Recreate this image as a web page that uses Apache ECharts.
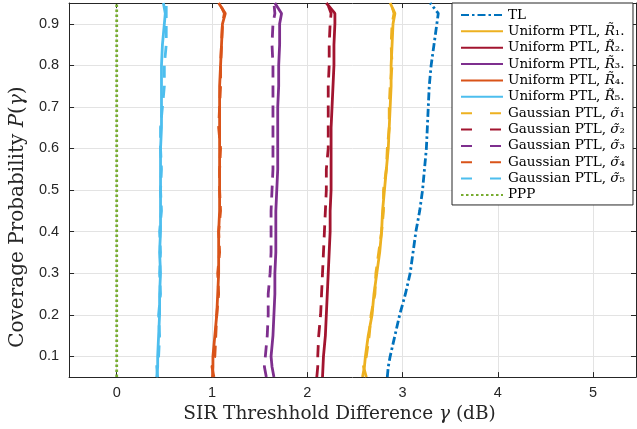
<!DOCTYPE html>
<html><head><meta charset="utf-8">
<script src="https://cdn.jsdelivr.net/npm/echarts@6/dist/echarts.min.js"></script>
<style>html,body{margin:0;padding:0;background:#fff}#c{width:637px;height:429px}</style>
</head><body><div id="c"></div>
<script>
// Coverage probability levels (y) shared by all curves
const yLevels = [0.05, 0.075, 0.1, 0.15, 0.2, 0.25, 0.3, 0.35, 0.4, 0.45, 0.5, 0.55, 0.6, 0.65, 0.7, 0.75, 0.8, 0.85, 0.9, 0.925, 0.95];

// SIR threshold difference (x, dB) of each curve at those levels
const tlX      = [2.84, 2.85, 2.87, 2.92, 2.97, 3.03, 3.08, 3.11, 3.14, 3.18, 3.21, 3.23, 3.25, 3.26, 3.27, 3.28, 3.30, 3.33, 3.36, 3.375, 3.29];
const uniR1X   = [2.58, 2.60, 2.61, 2.64, 2.68, 2.70, 2.73, 2.76, 2.78, 2.79, 2.81, 2.83, 2.85, 2.86, 2.87, 2.88, 2.88, 2.89, 2.90, 2.92, 2.87];
const uniR2X   = [2.16, 2.165, 2.17, 2.19, 2.20, 2.21, 2.22, 2.23, 2.24, 2.24, 2.25, 2.25, 2.25, 2.25, 2.26, 2.27, 2.28, 2.28, 2.29, 2.29, 2.20];
const uniR3X   = [1.65, 1.63, 1.62, 1.64, 1.65, 1.66, 1.66, 1.67, 1.67, 1.67, 1.68, 1.69, 1.69, 1.69, 1.69, 1.70, 1.70, 1.71, 1.71, 1.73, 1.66];
const uniR4X   = [1.005, 1.01, 1.01, 1.03, 1.05, 1.06, 1.07, 1.07, 1.07, 1.08, 1.08, 1.08, 1.08, 1.08, 1.08, 1.08, 1.09, 1.10, 1.11, 1.14, 1.07];
const uniR5X   = [0.42, 0.43, 0.43, 0.44, 0.45, 0.45, 0.46, 0.45, 0.46, 0.46, 0.46, 0.46, 0.46, 0.47, 0.47, 0.47, 0.47, 0.48, 0.50, 0.51, 0.49];
const gauS1X   = [2.62, 2.59, 2.62, 2.65, 2.67, 2.71, 2.72, 2.75, 2.78, 2.80, 2.80, 2.83, 2.84, 2.86, 2.86, 2.87, 2.89, 2.88, 2.89, 2.91, 2.88];
const gauS2X   = [2.10, 2.11, 2.11, 2.12, 2.14, 2.15, 2.16, 2.17, 2.18, 2.19, 2.20, 2.20, 2.22, 2.22, 2.22, 2.22, 2.23, 2.23, 2.24, 2.25, 2.21];
const gauS3X   = [1.57, 1.55, 1.56, 1.58, 1.59, 1.59, 1.61, 1.62, 1.62, 1.62, 1.63, 1.64, 1.64, 1.64, 1.64, 1.64, 1.64, 1.63, 1.64, 1.66, 1.65];
const gauS4X   = [1.02, 1.00, 1.03, 1.04, 1.05, 1.07, 1.06, 1.08, 1.07, 1.09, 1.08, 1.08, 1.09, 1.07, 1.08, 1.09, 1.09, 1.10, 1.11, 1.13, 1.08];
const gauS5X   = [0.43, 0.42, 0.44, 0.45, 0.44, 0.46, 0.45, 0.46, 0.45, 0.47, 0.46, 0.47, 0.46, 0.46, 0.48, 0.50, 0.50, 0.52, 0.52, 0.52, 0.52];
const pppX     = [0, 0];
const pppY     = [0.05, 0.95];

const xTicks = [0, 1, 2, 3, 4, 5];
const yTicks = [0.1, 0.2, 0.3, 0.4, 0.5, 0.6, 0.7, 0.8, 0.9];

const seriesNames = ['TL', 'Uniform PTL, R1', 'Uniform PTL, R2', 'Uniform PTL, R3', 'Uniform PTL, R4', 'Uniform PTL, R5',
  'Gaussian PTL, s1', 'Gaussian PTL, s2', 'Gaussian PTL, s3', 'Gaussian PTL, s4', 'Gaussian PTL, s5', 'PPP'];
const legendLabels = ['{t|TL}',
  '{t|Uniform PTL, }{i|R\u0303}{t|\u2081.}', '{t|Uniform PTL, }{i|R\u0303}{t|\u2082.}', '{t|Uniform PTL, }{i|R\u0303}{t|\u2083.}',
  '{t|Uniform PTL, }{i|R\u0303}{t|\u2084.}', '{t|Uniform PTL, }{i|R\u0303}{t|\u2085.}',
  '{t|Gaussian PTL, }{i|\u03c3\u0303}{t|\u2081}', '{t|Gaussian PTL, }{i|\u03c3\u0303}{t|\u2082}', '{t|Gaussian PTL, }{i|\u03c3\u0303}{t|\u2083}',
  '{t|Gaussian PTL, }{i|\u03c3\u0303}{t|\u2084}', '{t|Gaussian PTL, }{i|\u03c3\u0303}{t|\u2085}', '{t|PPP}'];
const seriesColors = ['#0072BD', '#EDB120', '#A2142F', '#7E2F8E', '#D95319', '#4DBEEE',
  '#EDB120', '#A2142F', '#7E2F8E', '#D95319', '#4DBEEE', '#77AC30'];
const seriesX = [tlX, uniR1X, uniR2X, uniR3X, uniR4X, uniR5X, gauS1X, gauS2X, gauS3X, gauS4X, gauS5X];

const dashTL = [8, 3, 2.5, 3];
const dashGau = [12, 8];
const dotPPP = [2.5, 2.5];

function styleFor(i) {
  if (i === 0) return dashTL;
  if (i >= 6 && i <= 10) return dashGau;
  if (i === 11) return dotPPP;
  return 'solid';
}

const series = seriesNames.map((name, i) => {
  const data = i === 11 ? pppX.map((x, k) => [x, pppY[k]]) : seriesX[i].map((x, k) => [x, yLevels[k]]);
  return {
    name, type: 'line', data, symbol: 'none', showSymbol: false, animation: false,
    xAxisIndex: 0, yAxisIndex: 0,
    lineStyle: { color: seriesColors[i], width: 2.8, type: styleFor(i), cap: 'butt' },
    itemStyle: { color: seriesColors[i] },
    emphasis: { disabled: true },
    z: 2 + i * 0.01
  };
});

const legendData = seriesNames.map((name, i) => {
  const d = { name, itemStyle: { color: 'rgba(0,0,0,0)', borderWidth: 0, opacity: 0 } };
  if (i >= 6 && i <= 10) d.lineStyle = { type: [11, 18] };
  return d;
});

const axisColor = '#262626';
const gridColor = '#e3e3e3';
const serif = 'DejaVu Serif';
const sans = 'Liberation Sans';

const chart = echarts.init(document.getElementById('c'), null, { renderer: 'canvas' });
chart.setOption({
  animation: false,
  backgroundColor: '#fff',
  grid: { left: 68, right: 1, top: 3, bottom: 51, containLabel: false },
  xAxis: [{
    type: 'value', min: -0.5, max: 5.45, position: 'bottom',
    axisLine: { show: true, onZero: false, lineStyle: { color: axisColor, width: 1 } },
    axisTick: { show: true, inside: true, length: 5, customValues: xTicks, lineStyle: { color: axisColor } },
    axisLabel: { show: true, customValues: xTicks, fontFamily: sans, fontSize: 14.5, color: axisColor, margin: 8 },
    splitLine: { show: true, lineStyle: { color: gridColor, width: 1 } },
    name: '{t|SIR Threshhold Difference }{i|\u03b3}{t| (dB)}',
    nameLocation: 'middle', nameGap: 21,
    nameTextStyle: { fontFamily: serif, fontSize: 18.5, color: axisColor, padding: [0, 26, 0, 0],
      rich: { t: { fontFamily: serif, fontSize: 18.5, color: axisColor }, i: { fontFamily: serif, fontSize: 18.5, fontStyle: 'italic', color: axisColor } } }
  }, {
    type: 'value', min: -0.5, max: 5.45, position: 'top',
    axisLine: { show: true, onZero: false, lineStyle: { color: axisColor, width: 1 } },
    axisTick: { show: true, inside: true, length: 5, customValues: xTicks, lineStyle: { color: axisColor } },
    axisLabel: { show: false }, splitLine: { show: false }
  }],
  yAxis: [{
    type: 'value', min: 0.05, max: 0.95, position: 'left',
    axisLine: { show: true, onZero: false, lineStyle: { color: axisColor, width: 1 } },
    axisTick: { show: true, inside: true, length: 5, customValues: yTicks, lineStyle: { color: axisColor } },
    axisLabel: { show: true, customValues: yTicks, fontFamily: sans, fontSize: 14.5, color: axisColor, margin: 10,
      formatter: v => v.toFixed(1) },
    splitLine: { show: true, lineStyle: { color: gridColor, width: 1 } },
    name: '{t|Coverage Probability }{i|P}{t|(}{i|\u03b3}{t|)}',
    nameLocation: 'middle', nameGap: 36,
    nameTextStyle: { fontFamily: serif, fontSize: 20, color: axisColor, padding: [0, 54, 0, 0],
      rich: { t: { fontFamily: serif, fontSize: 20, color: axisColor }, i: { fontFamily: serif, fontSize: 20, fontStyle: 'italic', color: axisColor } } }
  }, {
    type: 'value', min: 0.05, max: 0.95, position: 'right',
    axisLine: { show: true, onZero: false, lineStyle: { color: axisColor, width: 1 } },
    axisTick: { show: true, inside: true, length: 5, customValues: yTicks, lineStyle: { color: axisColor } },
    axisLabel: { show: false }, splitLine: { show: false }
  }],
  legend: {
    orient: 'vertical', left: 452, top: 3, padding: [5, 8, 3, 8],
    itemWidth: 42, itemHeight: 14, itemGap: 2.36,
    backgroundColor: '#fff', borderColor: axisColor, borderWidth: 1, borderRadius: 0,
    selectedMode: false,
    itemStyle: { color: 'rgba(0,0,0,0)', borderWidth: 0, opacity: 0 },
    textStyle: { fontFamily: serif, fontSize: 13.5, color: '#000', lineHeight: 14,
      rich: {
        t: { fontFamily: serif, fontSize: 13.5, color: '#000', lineHeight: 14 },
        i: { fontFamily: serif, fontSize: 13.5, fontStyle: 'italic', color: '#000', lineHeight: 14 }
      } },
    formatter: name => legendLabels[seriesNames.indexOf(name)],
    data: legendData
  },
  series
});
</script>
</body></html>
